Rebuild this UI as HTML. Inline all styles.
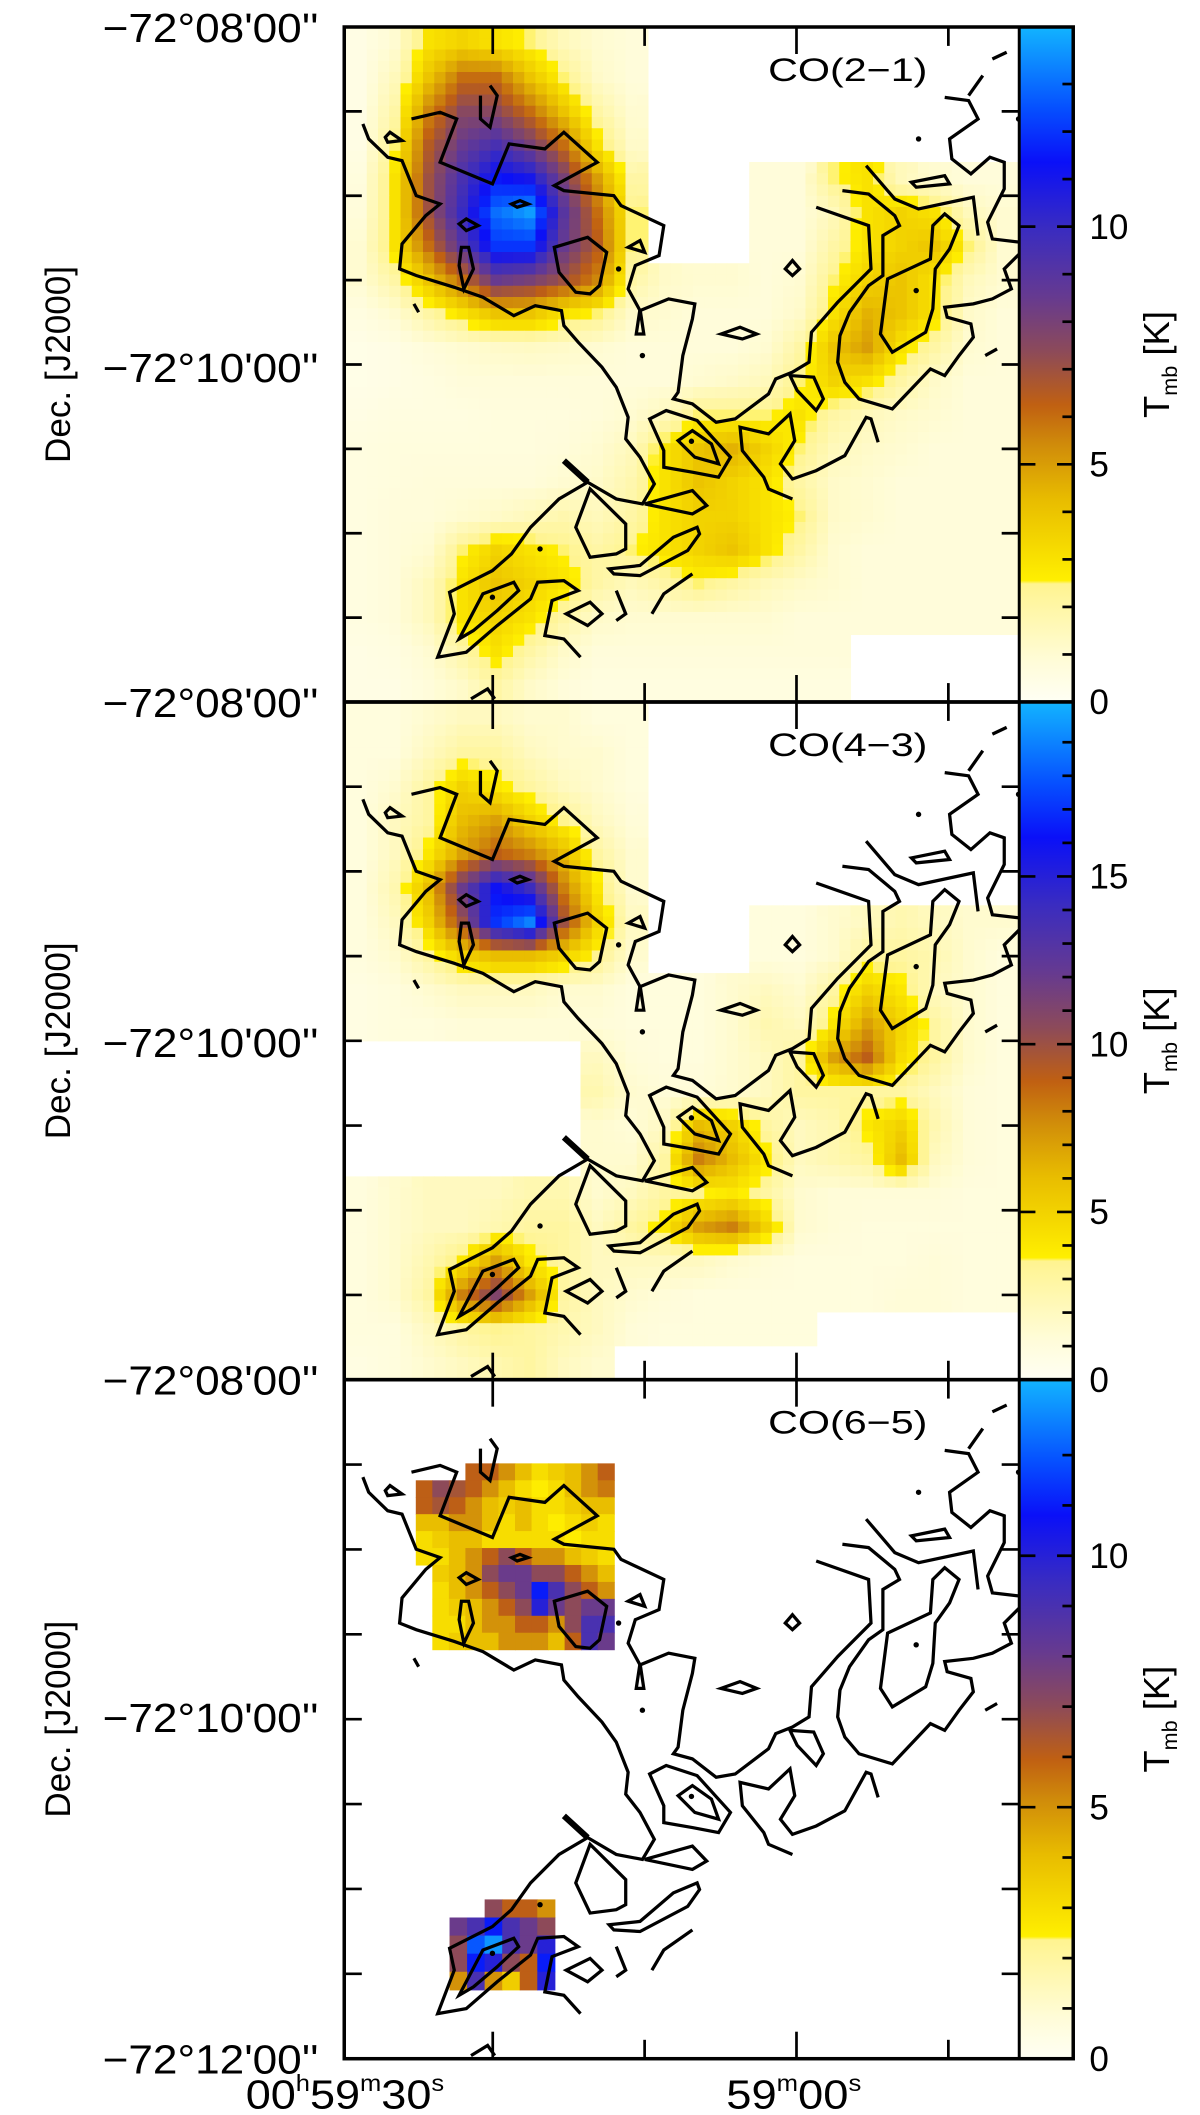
<!DOCTYPE html>
<html><head><meta charset="utf-8"><title>CO maps</title>
<style>html,body{margin:0;padding:0;background:#fff}svg{display:block}text{font-family:"Liberation Sans",sans-serif;fill:#000}</style>
</head><body>
<svg id="fig" xmlns="http://www.w3.org/2000/svg" width="1200" height="2115" viewBox="0 0 888.9 1566.7">
<defs>
<clipPath id="clip0"><rect x="255" y="20" width="500" height="500"/></clipPath>
<clipPath id="clip1"><rect x="255" y="520" width="500" height="502"/></clipPath>
<clipPath id="clip2"><rect x="255" y="1022" width="500" height="503"/></clipPath>
<linearGradient id="cbgrad" x1="0" y1="1" x2="0" y2="0"></linearGradient>
</defs>
<g id="layer"></g>
</svg>
<script>
// ---- data ----
const panelTitles = ["CO(2\u22121)", "CO(4\u22123)", "CO(6\u22125)"];
const panelVmax = [14.2, 20.2, 13.5];
const cbTicks0 = [0, 5, 10];
const cbTicks1 = [0, 5, 10, 15];
const cbTicks2 = [0, 5, 10];
const decTickLabels = ["\u221272\u00b008'00''", "\u221272\u00b010'00''", "\u221272\u00b008'00''", "\u221272\u00b010'00''", "\u221272\u00b008'00''", "\u221272\u00b010'00''", "\u221272\u00b012'00''"];
const raTickValues = [30, 15, 0, -15]; // seconds relative to 59m00s
// heatmap grids (K), -1 = no data
const grid0 = [
[.5,1,3,3.5,3,2.5,1.5,1,.8,-1,-1,-1,-1,-1,-1,-1,-1,-1,-1,-1],
[.5,1.5,4,6,6,4,2.5,1.2,.8,-1,-1,-1,-1,-1,-1,-1,-1,-1,-1,-1],
[.5,2,5.5,7.5,7.5,6,4,2,1,-1,-1,-1,-1,-1,-1,-1,-1,-1,-1,-1],
[.5,2.5,6.5,8.5,9.5,8,6,3,1.2,-1,-1,-1,-1,-1,-1,-1,-1,-1,-1,-1],
[.7,3,7,9.5,11.5,11,8,5,2,-1,-1,-1,.8,.8,2.5,3,1.5,1,.8,.8],
[.8,3,7,10,13,13.8,9,6,2.5,-1,-1,-1,.8,.8,1.5,3,3.5,3,1.5,1],
[1,3,6,9,12,12,8.5,6.5,2.5,-1,-1,-1,.8,.8,2,3,3.5,4,2.5,1],
[1,2,4,6,8.5,8,7,5.5,2,1.2,1,1,.8,1,2.5,3.5,4,3,1.5,1],
[.6,1,2,3,4,4,3,2.5,1.2,1,.8,.8,.8,1.2,3,4.5,4,3,1.2,.8],
[.4,.5,.8,1,1.2,1.3,1.2,1,.8,.8,.8,.8,1,2,4,5,3,2,1,.8],
[.4,.5,.6,.8,.8,.8,.8,.8,.8,.8,1,1.2,1.5,2.5,3.5,3,2,1.2,.8,.8],
[.5,.6,.6,.6,.7,.7,.7,.8,1,1.5,2.5,2.5,2.5,3,2,1.5,1.2,1,.8,.8],
[.6,.7,.7,.7,.7,.7,.8,1,1.5,3,4,4.5,3.5,2.5,1.5,1.2,1,.8,.8,.8],
[.6,.7,.8,.8,.8,.8,1,1.2,1.8,3,4,3.5,3,2,1.2,1,.8,.8,.8,.8],
[.6,.8,.8,1,1.2,1.5,1.8,1.5,2,3,3.5,3.5,3,2.5,1.2,1,.8,.8,.8,.8],
[.6,.8,1,2.5,3.5,3,2.5,2,2.5,3,3.5,4,3,2,1,.8,.8,.8,.8,.8],
[.6,.8,1.5,3,4,3.5,3,2,1.5,2,2.5,2,1.5,1.2,1,.8,.8,.8,.8,.8],
[.6,.8,1.5,3,3.5,3,2,1.2,1,1,1,1,1,.8,.8,.8,.8,.8,.8,.8],
[.5,.6,1,2,3,2,1.2,.8,.8,.8,.8,.8,.8,.8,.8,-1,-1,-1,-1,-1],
[.5,.5,.8,1.2,2,1.2,.8,.6,.6,.6,.6,.6,.6,.6,.6,-1,-1,-1,-1,-1]];
const grid1 = [
[1,1,1.5,2,2,1.5,1.5,1,1,-1,-1,-1,-1,-1,-1,-1,-1,-1,-1,-1],
[1,1,2,3,3,2,1.5,1.5,1,-1,-1,-1,-1,-1,-1,-1,-1,-1,-1,-1],
[1,1.5,3,5,4,3,2,1.5,1,-1,-1,-1,-1,-1,-1,-1,-1,-1,-1,-1],
[1,2,3,6,7,5,3.5,2,1.2,-1,-1,-1,-1,-1,-1,-1,-1,-1,-1,-1],
[1,2,4,7,9,8,6,3,1.5,-1,-1,-1,-1,-1,-1,-1,-1,-1,-1,-1],
[1,2.5,6,12,16,14,8,4,1.5,-1,-1,-1,-1,-1,-1,-1,-1,-1,-1,-1],
[1,2,5,10,17,19,10,5,2,-1,-1,-1,1,1,1.5,2,2.5,2,1.5,1.5],
[1,1.5,3,5,6,6,5,3.5,1.5,-1,-1,-1,1,1,1.5,3,3,2.5,1.5,1],
[.8,1,1.5,2,2,2,1.5,1.5,1,1,1,1.5,2,1.5,3,5,4,2,1.5,1],
[.8,1,1,1.2,1.2,1.2,1.2,1.2,1,1,1,1.5,2.5,2,4,7,5,3,1.5,1],
[-1,-1,-1,-1,-1,-1,-1,2,1.2,1,1,1.5,2,3,7,9,4.5,3,1.5,1],
[-1,-1,-1,-1,-1,-1,-1,2.5,1.5,1.2,1.2,1.5,2,3,3,3,3,2,1.2,1],
[-1,-1,-1,-1,-1,-1,-1,1.5,1.2,2,6,5,3,2,2.5,4,5,2.5,1.2,1],
[-1,-1,-1,-1,-1,-1,-1,1.5,1.5,3,8,6,4,2,2.5,3,6,2,1.2,1],
[1,1.5,2,2,2,2.5,2.5,1.5,2,3,3.5,4,3,1.5,1.2,1.2,1.2,1.2,1,1],
[1,1.5,2,2,2.5,3,3,2,3,4,7,8,5,1.5,1.2,1,1,1,1,1],
[1,1.5,2.5,4,7,4,3,2,2,2,2,1.5,1.2,1,1,1,1,1.2,1,1],
[1,1.5,3,8,11,7,3,2,1.5,1.2,1,1,1,1,1,1,1.2,1.2,1,1],
[1,1,2,3,3.5,3,2.5,2,1.2,1,1,1,1,1,-1,-1,-1,-1,-1,-1],
[.8,1,1.5,2,2.5,3,2,1.5,-1,-1,-1,-1,-1,-1,-1,-1,-1,-1,-1,-1]];
const patchNW = [
[-1,-1,-1,6,6,5,4,3,3.5,4,5,6],
[6,7,6.5,6,5,4,3,2.5,3,4,5,5.5],
[6,6.5,6,5,4,3.5,4,3,3,3.5,4,4],
[4,4,5,5,4,3,4,3,2.5,3,3.5,3],
[3,3.5,4,4,3,3,3,3,3,2.5,3,3],
[3,3,4,5,6,7,6,5,5,4,3.5,3],
[-1,3.5,4,5,7,8,8,7,7,6,5,4],
[-1,3,4,5,6,7,8,11,9,7,6,5],
[-1,3,3.5,4,5,6,7,10,8,7,8,8],
[-1,3,3,4,5,5,6,6,5,7,9,9],
[-1,3,3.5,4,4,5,5,5,4,6,9,8]];
const patchSW = [
[-1,-1,7,6,6,5],
[8,9,11,9,8,7],
[7,12,13,9,8,10],
[7,11,10,7,6,11],
[5,9,5,3.5,6,10]];
// contours in map units (shared by all panels)
const contourOpen = [
[[48,305],[60,350],[100,405],[130,415],[160,520],[210,545],[180,580],[130,665],[125,740],[160,760],[240,795],[300,825],[365,880],[410,850],[465,865],[470,910],[500,960],[550,1035],[580,1095],[605,1185],[600,1250],[630,1305],[660,1385],[635,1445],[580,1430],[520,1380],[460,1430],[400,1515],[360,1595],[320,1645],[230,1710],[240,1775],[205,1905],[265,1890],[330,1810],[400,1730],[415,1680],[470,1675],[500,1705],[445,1735],[430,1840],[470,1850],[505,1905]],
[[150,290],[210,270],[245,290],[210,420],[320,485],[355,365],[430,380],[470,330],[540,420],[450,490],[470,505],[575,520],[590,550],[680,610],[670,700],[620,730],[605,800],[630,865],[690,830],[745,845],[740,890],[720,1000],[710,1110],[700,1130],[740,1145],[790,1200],[830,1190],[900,1115],[915,1070],[950,1050],[985,1020],[990,930],[1045,840],[1115,740],[1110,610],[1000,555]],
[[1055,505],[1110,515],[1165,580],[1175,610],[1140,640],[1140,760],[1110,790],[1070,870],[1050,940],[1045,1020],[1060,1080],[1090,1130],[1160,1160],[1240,1040],[1270,1060],[1300,1000],[1330,945],[1325,905],[1275,885],[1270,855],[1330,845],[1370,830],[1410,800],[1395,740],[1430,690]],
[[1105,430],[1165,530],[1215,560],[1330,525],[1340,640]],
[[1270,225],[1320,235],[1340,290],[1280,350],[1285,410],[1325,455],[1365,405],[1395,420],[1395,500],[1360,600],[1370,650],[1430,660]],
[[1370,110],[1400,90]],[[1320,220],[1350,160]],[[155,845],[165,870]],[[1355,1000],[1380,980]],
[[315,190],[330,220],[315,315],[295,290],[295,220]],
[[950,1430],[900,1400],[890,1365],[845,1285],[840,1215],[900,1235],[945,1175],[955,1255],[925,1325],[950,1370],[1000,1345],[1060,1300],[1105,1185],[1115,1190],[1130,1260]],
[[655,1775],[680,1715],[740,1655]],
[[580,1705],[600,1775],[580,1795]],
[[275,2030],[310,2000],[325,2030]]];
const contourClosed = [
[[1135,935],[1150,770],[1240,710],[1245,610],[1270,575],[1300,610],[1280,680],[1250,740],[1245,860],[1230,930],[1160,990]],
[[1200,480],[1270,460],[1280,485],[1210,495]],
[[935,740],[950,715],[965,740],[950,760]],
[[800,935],[840,915],[875,935],[845,950]],
[[605,675],[630,655],[640,690]],
[[250,605],[265,590],[290,610],[265,625]],
[[360,545],[378,535],[395,545],[372,555]],
[[95,345],[105,330],[130,355],[100,360]],
[[255,675],[270,675],[280,740],[260,800],[250,730]],
[[450,675],[520,645],[560,690],[545,790],[525,815],[495,810],[460,750]],
[[622,935],[630,860],[638,935]],
[[650,1190],[685,1165],[750,1195],[820,1305],[795,1365],[740,1350],[680,1335],[680,1285]],
[[710,1255],[740,1225],[780,1265],[795,1325],[745,1305]],
[[945,1060],[995,1065],[1015,1130],[1000,1165],[960,1105]],
[[525,1400],[600,1505],[600,1580],[580,1595],[525,1605],[495,1515]],
[[640,1445],[740,1405],[770,1450],[740,1475]],
[[565,1640],[630,1630],[700,1545],[750,1515],[755,1535],[730,1585],[630,1660],[575,1655]],
[[475,1775],[525,1740],[550,1775],[520,1810]],
[[250,1850],[300,1715],[365,1680],[375,1705],[330,1765],[280,1825]]];
const contourThick = [[[470,1315],[520,1380]]];
const contourDots = [[1210,805],[1215,350],[1425,290],[635,1000],[585,740],[738,1257],[320,1725],[420,1580]];

// ---- geometry ----
const NS = "http://www.w3.org/2000/svg";
const X0 = 255, X1 = 755, CB1 = 795;
const panelTop = [20, 520, 1022];
const panelBot = [520, 1022, 1525];
const layer = document.getElementById('layer');
function mk(tag, attrs, parent) { const e = document.createElementNS(NS, tag); for (const k in attrs) e.setAttribute(k, attrs[k]); (parent || layer).appendChild(e); return e; }
function mapX(u) { return X0 + u * 0.3527 - 3.1; }
function mapY(u, p) { const h = panelBot[p] - panelTop[p]; return panelTop[p] + (u * 0.2469 - 3.5) * h / 500; }
function raX(s) { return 590 - s * 7.5; }
function cbY(v, p) { const h = panelBot[p] - panelTop[p]; return panelBot[p] - v / panelVmax[p] * h; }
const cstops = [[0,'#fffff4'],[0.06,'#fffcd8'],[0.175,'#fff490'],[0.18,'#ffef00'],[0.3,'#e8bc00'],[0.38,'#d08c0a'],[0.44,'#c06012'],[0.52,'#8c4a5a'],[0.6,'#663a90'],[0.7,'#3a2cc0'],[0.8,'#0a10f8'],[0.88,'#0650ff'],[1,'#12b4ff']];
function hex(c){return [parseInt(c.substr(1,2),16),parseInt(c.substr(3,2),16),parseInt(c.substr(5,2),16)];}
function cmap(t){ t=Math.max(0,Math.min(1,t)); for(let i=1;i<cstops.length;i++){ if(t<=cstops[i][0]){ const a=cstops[i-1],b=cstops[i]; const f=(t-a[0])/(b[0]-a[0]); const ca=hex(a[1]),cb=hex(b[1]); return 'rgb('+ca.map((v,j)=>Math.round(v+(cb[j]-v)*f)).join(',')+')'; } } return cstops[cstops.length-1][1]; }
const grad = document.getElementById('cbgrad');
cstops.forEach(s => { const st = document.createElementNS(NS,'stop'); st.setAttribute('offset', s[0]); st.setAttribute('stop-color', s[1]); grad.appendChild(st); });

function drawSmooth(grid, p, x0, y0, w, h, sub, name) {
  const g = mk('g', {'clip-path': 'url(#clip' + p + ')'});
  
  
  const rows = grid.length, cols = grid[0].length;
  const cw = w / cols, ch = h / rows;
  const sw = cw / sub, sh = ch / sub;
  function val(r, c) { r = Math.max(0, Math.min(rows - 1, r)); c = Math.max(0, Math.min(cols - 1, c)); return grid[r][c]; }
  for (let i = 0; i < rows * sub; i++) {
    for (let j = 0; j < cols * sub; j++) {
      const gy = (i + 0.5) / sub - 0.5, gx = (j + 0.5) / sub - 0.5;
      const r = Math.floor(i / sub), c = Math.floor(j / sub);
      if (grid[r][c] < 0) continue;
      const r0 = Math.floor(gy), c0 = Math.floor(gx), fy = gy - r0, fx = gx - c0;
      const own = grid[r][c];
      const q = [val(r0, c0), val(r0, c0 + 1), val(r0 + 1, c0), val(r0 + 1, c0 + 1)].map(z => z < 0 ? own : z);
      const v = q[0]*(1-fx)*(1-fy) + q[1]*fx*(1-fy) + q[2]*(1-fx)*fy + q[3]*fx*fy;
      const cell = mk('rect', {x: (x0 + j*sw).toFixed(2), y: (y0 + i*sh).toFixed(2), width: (sw + 0.4).toFixed(2), height: (sh + 0.4).toFixed(2), fill: cmap(v / panelVmax[p])}, g);
      
      
    }
  }
}
function drawGrid(grid, p, x0, y0, w, h, name) {
  const g = mk('g', {'clip-path': 'url(#clip' + p + ')'});
  
  
  const rows = grid.length, cols = grid[0].length;
  const cw = w / cols, ch = h / rows;
  grid.forEach((row, r) => row.forEach((v, c) => {
    if (v < 0) return;
    const cell = mk('rect', {x: x0 + c*cw, y: y0 + r*ch, width: cw + 0.4, height: ch + 0.4, fill: cmap(v / panelVmax[p])}, g);
    
    
  }));
}
drawSmooth(grid0, 0, X0, panelTop[0], 500, 500, 3, 'co21-heatmap');
drawSmooth(grid1, 1, X0, panelTop[1], 500, 502, 3, 'co43-heatmap');
drawGrid(patchNW, 2, X0 + 53, panelTop[2] + 62, 147, 138, 'co65-patch-north');
drawGrid(patchSW, 2, X0 + 78, panelTop[2] + 385, 78, 67, 'co65-patch-south');

const cbTickSets = [cbTicks0, cbTicks1, cbTicks2];
for (let p = 0; p < 3; p++) {
  const T = panelTop[p], B = panelBot[p], H = B - T;
  const cg = mk('g', {fill: 'none', stroke: '#000', 'stroke-width': 2.4, 'stroke-linejoin': 'miter', 'clip-path': 'url(#clip' + p + ')'});
  
  
  contourOpen.forEach(line => { const pl = mk('polyline', {points: line.map(q => mapX(q[0]).toFixed(1) + ',' + mapY(q[1], p).toFixed(1)).join(' ')}, cg);   });
  contourClosed.forEach(line => { const pl = mk('polygon', {points: line.map(q => mapX(q[0]).toFixed(1) + ',' + mapY(q[1], p).toFixed(1)).join(' ')}, cg);   });
  contourThick.forEach(line => { const pl = mk('polyline', {points: line.map(q => mapX(q[0]).toFixed(1) + ',' + mapY(q[1], p).toFixed(1)).join(' '), 'stroke-width': 4.5}, cg);   });
  contourDots.forEach(q => { const d = mk('circle', {cx: mapX(q[0]), cy: mapY(q[1], p), r: 2, fill: '#000', stroke: 'none'}, cg);   });

  const cb = mk('rect', {x: X1, y: T, width: CB1 - X1, height: H, fill: 'url(#cbgrad)'});
  
  
  const vmax = panelVmax[p];
  for (let v = 1; v < vmax - 0.5; v++) {
    const y = cbY(v, p), major = v % 5 === 0;
    mk('line', {x1: CB1 - (major ? 12 : 8), x2: CB1, y1: y, y2: y, stroke: '#000', 'stroke-width': 2});
    if (major) mk('line', {x1: X1, x2: X1 + 12, y1: y, y2: y, stroke: '#000', 'stroke-width': 2});
  }
  cbTickSets[p].forEach(v => {
    const t = mk('text', {x: 807, y: cbY(v, p) + 9, 'font-size': 26});
    t.textContent = v;
    
    
  });
  const cbl = mk('text', {x: 0, y: 0, 'font-size': 27, 'text-anchor': 'middle', transform: 'translate(866,' + (T + H/2) + ') rotate(-90)'});
  cbl.innerHTML = 'T<tspan font-size="16" dy="6">mb</tspan><tspan dy="-6"> [K]</tspan>';
  
  

  const fr = mk('rect', {x: X0, y: T, width: CB1 - X0, height: H, fill: 'none', stroke: '#000', 'stroke-width': 2.6});
  
  
  mk('line', {x1: X1, x2: X1, y1: T, y2: B, stroke: '#000', 'stroke-width': 2.2});
  for (let k = 1; k < 8; k++) {
    const y = T + k * H / 8;
    mk('line', {x1: X0, x2: X0 + 13, y1: y, y2: y, stroke: '#000', 'stroke-width': 2});
    mk('line', {x1: X1 - 13, x2: X1, y1: y, y2: y, stroke: '#000', 'stroke-width': 2});
  }
  raTickValues.forEach(s => {
    const x = raX(s), major = (s % 30 === 0);
    const L = major ? 20 : 14;
    mk('line', {x1: x, x2: x, y1: B, y2: B - L, stroke: '#000', 'stroke-width': 2});
    mk('line', {x1: x, x2: x, y1: T, y2: T + L, stroke: '#000', 'stroke-width': 2});
  });
  const tt = mk('text', {x: 569, y: T + 40, 'font-size': 24, textLength: 118, lengthAdjust: 'spacingAndGlyphs'});
  tt.textContent = panelTitles[p];
  
  
  const dl = mk('text', {x: 0, y: 0, 'font-size': 26, 'text-anchor': 'middle', transform: 'translate(52,' + (T + H/2) + ') rotate(-90)'});
  dl.textContent = 'Dec. [J2000]';
  
  
}
const decLabelY = [20, 272, 520, 772, 1022, 1272, 1525];
decTickLabels.forEach((s, i) => {
  const t = mk('text', {x: 76, y: decLabelY[i] + 11, 'font-size': 30, textLength: 160, lengthAdjust: 'spacingAndGlyphs'});
  t.textContent = s;
  
  
});
const ra1 = mk('text', {x: 182, y: 1562, 'font-size': 30, textLength: 147, lengthAdjust: 'spacingAndGlyphs'});
ra1.innerHTML = '00<tspan font-size="17" dy="-13">h</tspan><tspan dy="13">59</tspan><tspan font-size="17" dy="-13">m</tspan><tspan dy="13">30</tspan><tspan font-size="17" dy="-13">s</tspan>';


const ra2 = mk('text', {x: 538, y: 1562, 'font-size': 30, textLength: 100, lengthAdjust: 'spacingAndGlyphs'});
ra2.innerHTML = '59<tspan font-size="17" dy="-13">m</tspan><tspan dy="13">00</tspan><tspan font-size="17" dy="-13">s</tspan>';


</script>
</body></html>
